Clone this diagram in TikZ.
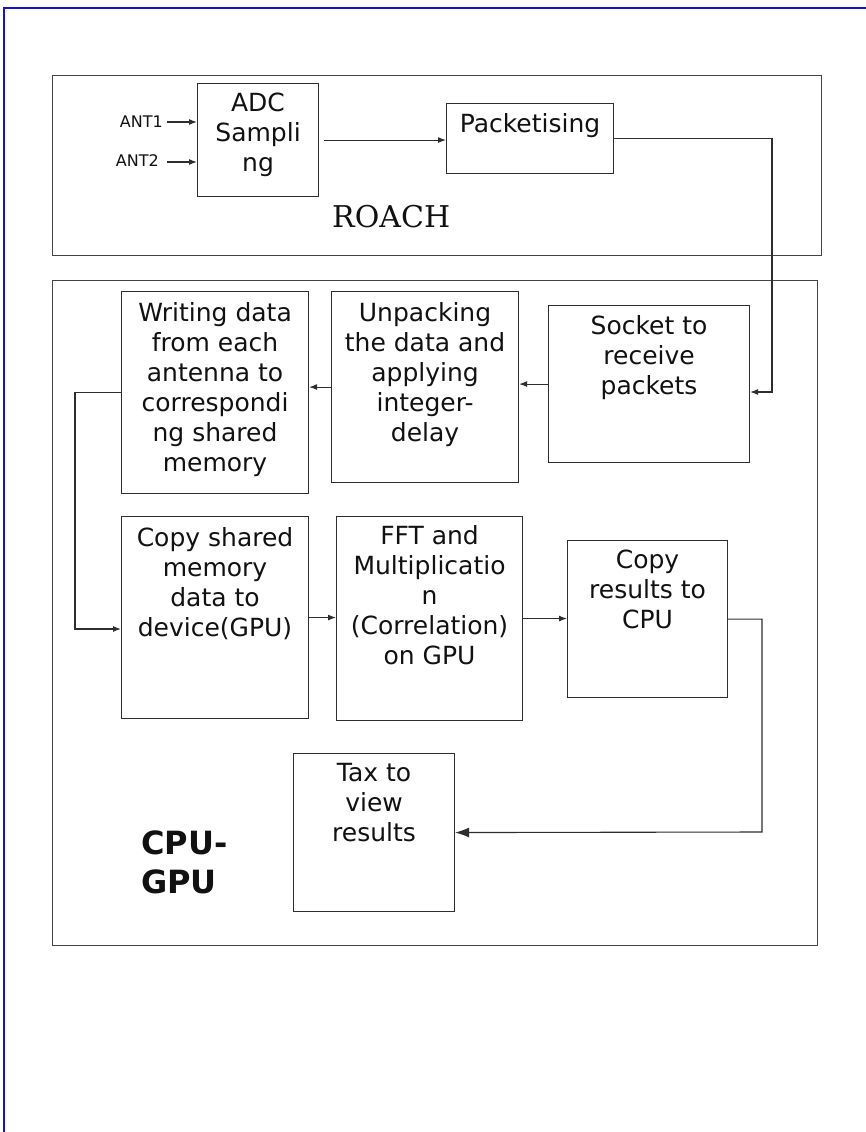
\documentclass[tikz,border=0pt]{standalone}
\usepackage{fontspec}
\setmainfont{DejaVu Sans}
\newfontfamily\roachfont{DejaVu Serif}
\usepackage{tikz}
\usetikzlibrary{arrows.meta,positioning}
\definecolor{cbLine}{HTML}{2E2E2E}
\definecolor{cbFrame}{HTML}{444444}
\definecolor{cbInk}{HTML}{111111}
\definecolor{cbPage}{HTML}{1414C8}

\begin{document}
\begin{tikzpicture}[x=1pt, y=-1pt,
  frame/.style={draw=cbFrame, line width=1.2pt, anchor=north west, inner sep=0pt},
  box/.style={draw=cbLine, line width=1.1pt, anchor=north west, inner sep=0pt},
  txt/.style={font=\fontsize{25}{30}\selectfont, text=cbInk, align=center, inner sep=0pt},
  ant/.style={font=\fontsize{16}{19}\selectfont, text=cbInk, anchor=east, inner sep=0pt},
  arr/.style={-{Latex[length=8pt,width=6pt]}, cbLine, line width=1.1pt},
  bigarr/.style={-{Latex[length=14pt,width=10pt]}, cbLine, line width=1.1pt}]

\useasboundingbox (0,0) rectangle (866,1132);
\draw[cbPage, line width=1.5pt] (866,8) -- (4,8) -- (4,1132);

\node[frame, minimum width=769pt, minimum height=180pt] (roach) at (52,75) {};
\node[frame, minimum width=765pt, minimum height=665pt] (cpugpu) at (52,280) {};
\node[font=\roachfont\fontsize{30}{36}\selectfont, text=cbInk, anchor=base west, inner sep=0pt] (roachlbl) at (332,227) {ROACH};
\node[font=\bfseries\fontsize{32}{39}\selectfont, text=cbInk, align=left, anchor=north west, inner sep=0pt] (cpugpulbl) at (141,831) {CPU-\\GPU};

\node[box, minimum width=121pt, minimum height=113pt] (adc) at (197,83) {};
\node[box, minimum width=167pt, minimum height=70pt] (pack) at (446,103) {};
\node[box, minimum width=201pt, minimum height=157pt] (sock) at (548,305) {};
\node[box, minimum width=187pt, minimum height=191pt] (unpk) at (331,291) {};
\node[box, minimum width=187pt, minimum height=202pt] (wrt) at (121,291) {};
\node[box, minimum width=187pt, minimum height=202pt] (cpy) at (121,516) {};
\node[box, minimum width=186pt, minimum height=204pt] (fft) at (336,516) {};
\node[box, minimum width=160pt, minimum height=157pt] (res) at (567,540) {};
\node[box, minimum width=161pt, minimum height=158pt] (tax) at (293,753) {};

\node[txt, below=10pt of adc.north] (adctxt) {ADC\\Sampli\\ng};
\node[txt, below=10pt of pack.north] (packtxt) {Packetising};
\node[txt, below=10pt of sock.north] (socktxt) {Socket to\\receive\\packets};
\node[txt, below=11pt of unpk.north] (unpktxt) {Unpacking\\the data and\\applying\\integer-\\delay};
\node[txt, below=11pt of wrt.north] (wrttxt) {Writing data\\from each\\antenna to\\correspondi\\ng shared\\memory};
\node[txt, below=11pt of cpy.north] (cpytxt) {Copy shared\\memory\\data to\\device(GPU)};
\node[txt, below=9pt of fft.north] (ffttxt) {FFT and\\Multiplicatio\\n\\(Correlation)\\on GPU};
\node[txt, below=10pt of res.north] (restxt) {Copy\\results to\\CPU};
\node[txt, below=10pt of tax.north] (taxtxt) {Tax to\\view\\results};

\node[ant] (ant1) at (163,122) {ANT1};
\node[ant] (ant2) at (159,161) {ANT2};
\coordinate (ant1e) at (167,122);
\coordinate (ant2e) at (167,162);
\coordinate (upr) at (772,392);
\coordinate (lft) at (75,629);
\coordinate (rgt) at (762,832);

\draw[arr] (ant1e) -- (ant1e -| adc.west);
\draw[arr] (ant2e) -- (ant2e -| adc.west);
\draw[arr] ([xshift=5pt]adc.east) -- (adc.east -| pack.west);
\draw[arr] (pack.east) -| (upr) -- (upr -| sock.east);
\draw[arr] (sock.west) -- (sock.west -| unpk.east);
\draw[arr] (unpk.west) -- (unpk.west -| wrt.east);
\draw[arr] (wrt.west) -| (lft) -- (lft -| cpy.west);
\draw[arr] (cpy.east) -- (cpy.east -| fft.west);
\draw[arr] (fft.east) -- (fft.east -| res.west);
\draw[bigarr] (res.east) -| (rgt) -- (tax.east);
\end{tikzpicture}
\end{document}
